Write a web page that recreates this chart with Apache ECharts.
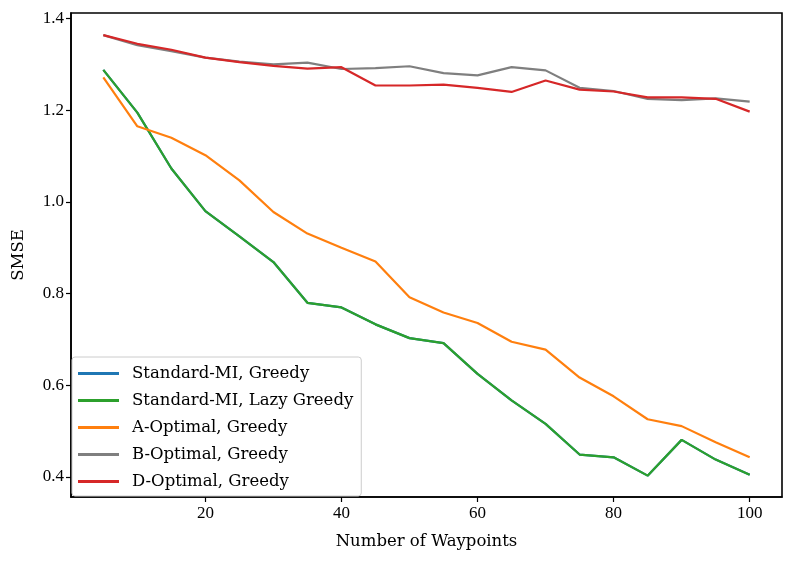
<!DOCTYPE html>
<html>
<head>
<meta charset="utf-8">
<script src="https://cdn.jsdelivr.net/npm/echarts@6/dist/echarts.min.js"></script>
<style>html,body{margin:0;padding:0;background:#fff}#c{width:794px;height:561px}</style>
</head>
<body>
<div id="c"></div>
<script>
const waypoints = [5,10,15,20,25,30,35,40,45,50,55,60,65,70,75,80,85,90,95,100];
const stdGreedy = [1.288,1.195,1.073,0.980,0.925,0.869,0.780,0.770,0.733,0.703,0.692,0.625,0.567,0.516,0.449,0.443,0.403,0.481,0.438,0.405];
const stdLazy   = [1.288,1.195,1.073,0.980,0.925,0.869,0.780,0.770,0.733,0.703,0.692,0.625,0.567,0.516,0.449,0.443,0.403,0.481,0.438,0.405];
const aOpt      = [1.272,1.165,1.140,1.102,1.047,0.978,0.931,0.900,0.870,0.792,0.759,0.736,0.695,0.678,0.617,0.576,0.526,0.511,0.476,0.443];
const bOpt      = [1.364,1.342,1.329,1.315,1.306,1.300,1.304,1.290,1.292,1.296,1.281,1.276,1.294,1.287,1.249,1.242,1.225,1.222,1.226,1.219];
const dOpt      = [1.364,1.345,1.332,1.315,1.305,1.297,1.291,1.294,1.254,1.254,1.256,1.249,1.240,1.265,1.245,1.241,1.228,1.228,1.225,1.197];
const xTicks = [20,40,60,80,100];
const yTicks = [0.4,0.6,0.8,1.0,1.2,1.4];
const names = ['Standard-MI, Greedy','Standard-MI, Lazy Greedy','A-Optimal, Greedy','B-Optimal, Greedy','D-Optimal, Greedy'];
const colors = ['#1f77b4','#2ca02c','#ff7f0e','#7f7f7f','#d62728'];
const values = [stdGreedy, stdLazy, aOpt, bOpt, dOpt];

const numFont = "'Liberation Serif', 'Times New Roman', serif";
const txtFont = "'DejaVu Serif', serif";
const chart = echarts.init(document.getElementById('c'));
chart.setOption({
  animation:false,
  grid:{left:71,right:12,top:13,bottom:64,show:true,borderColor:'#000',borderWidth:1.6,backgroundColor:'transparent'},
  xAxis:{type:'value',min:0.25,max:104.75,
    name:'Number of Waypoints',nameLocation:'middle',nameGap:36,
    nameTextStyle:{fontFamily:txtFont,fontSize:16.5,color:'#000'},
    axisLine:{show:true,onZero:false,lineStyle:{color:'#000',width:1.6}},
    axisTick:{show:true,inside:false,length:5,lineStyle:{color:'#000',width:1.2},customValues:xTicks},
    axisLabel:{customValues:xTicks,fontFamily:numFont,fontSize:17,color:'#000',margin:8},
    splitLine:{show:false}},
  yAxis:{type:'value',min:0.3564,max:1.4122,
    name:'SMSE',nameLocation:'middle',nameGap:44,nameRotate:90,
    nameTextStyle:{fontFamily:txtFont,fontSize:16.5,color:'#000'},
    axisLine:{show:true,onZero:false,lineStyle:{color:'#000',width:1.6}},
    axisTick:{show:true,inside:false,length:5,lineStyle:{color:'#000',width:1.2},customValues:yTicks},
    axisLabel:{customValues:yTicks,fontFamily:numFont,fontSize:17,color:'#000',margin:7,
      formatter:v=>v.toFixed(1)},
    splitLine:{show:false}},
  legend:{orient:'vertical',left:72,bottom:65,
    data:names,
    icon:'rect',itemWidth:41,itemHeight:3,itemGap:10,
    padding:[8,8,6,6],
    backgroundColor:'rgba(255,255,255,0.8)',borderColor:'#cccccc',borderWidth:1,borderRadius:3,
    textStyle:{fontFamily:txtFont,fontSize:16.5,color:'#000',lineHeight:17,padding:[0,0,0,8]}},
  series: names.map((n,i)=>({
    name:n,type:'line',showSymbol:false,symbol:'none',
    data: waypoints.map((x,j)=>[x, values[i][j]]),
    lineStyle:{color:colors[i],width:2.2},itemStyle:{color:colors[i]},
    z:2+i
  }))
});
</script>
</body>
</html>
